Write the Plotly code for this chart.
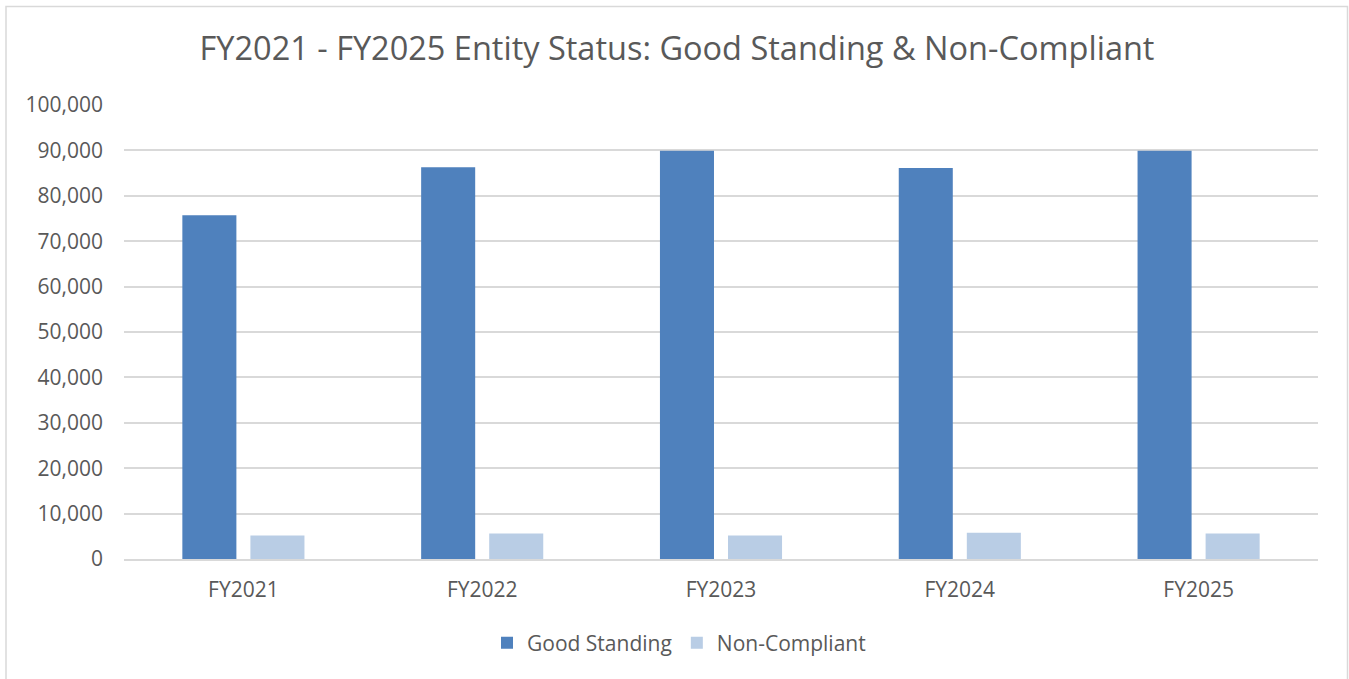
import plotly.graph_objects as go

categories = ["FY2021", "FY2022", "FY2023", "FY2024", "FY2025"]
good_standing = [75700, 86300, 89900, 86100, 89900]
non_compliant = [5200, 5600, 5200, 5800, 5600]
y_ticks = list(range(0, 100001, 10000))
y_tick_labels = [f"{v:,}" for v in y_ticks]

W, H = 1349, 679
ML, MR, MT, MB = 124, 31, 105, 120
pw, ph = W - ML - MR, H - MT - MB

def px(x):
    return (x - ML) / pw

def py(y):
    return (H - MB - y) / ph

font_family = "Open Sans, Liberation Sans, sans-serif"
text_color = "#595959"

fig = go.Figure()
fig.add_trace(go.Bar(name="Good Standing", x=categories, y=good_standing,
                     marker=dict(color="#4f81bd", line=dict(width=0))))
fig.add_trace(go.Bar(name="Non-Compliant", x=categories, y=non_compliant,
                     marker=dict(color="#b9cde5", line=dict(width=0))))

fig.update_layout(
    width=W, height=H,
    margin=dict(l=ML, r=MR, t=MT, b=MB),
    paper_bgcolor="white", plot_bgcolor="white",
    barmode="group", bargap=0.43, bargroupgap=0.206,
    font=dict(family=font_family, color=text_color, size=21),
    title=dict(text="FY2021 - FY2025 Entity Status: Good Standing & Non-Compliant",
               x=px(677), xref="paper", xanchor="center",
               y=1 - 49 / H, yanchor="middle",
               font=dict(size=32.5, color=text_color, family=font_family)),
    xaxis=dict(showgrid=False, showline=True, linecolor="#d9d9d9", linewidth=1.5,
               ticks="", ticklabelstandoff=11,
               tickfont=dict(size=21, color=text_color)),
    yaxis=dict(range=[0, 100000], tickvals=y_ticks, ticktext=y_tick_labels,
               showgrid=True, gridcolor="#d9d9d9", gridwidth=1.5,
               zeroline=False, showline=False, ticks="", ticklabelstandoff=20,
               tickfont=dict(size=21, color=text_color)),
    legend=dict(orientation="h", x=px(679), xanchor="center", y=py(643), yanchor="middle",
                font=dict(size=21, color=text_color), itemwidth=30,
                traceorder="normal"),
    shapes=[dict(type="rect", xref="paper", yref="paper",
                 x0=px(6), x1=px(1347.5), y0=py(700), y1=py(6.5),
                 line=dict(color="#d9d9d9", width=1.5), fillcolor="rgba(0,0,0,0)", layer="below")],
)

fig.write_html("out.html", config={"displayModeBar": False},
               post_script="document.body.style.margin='0px';")
